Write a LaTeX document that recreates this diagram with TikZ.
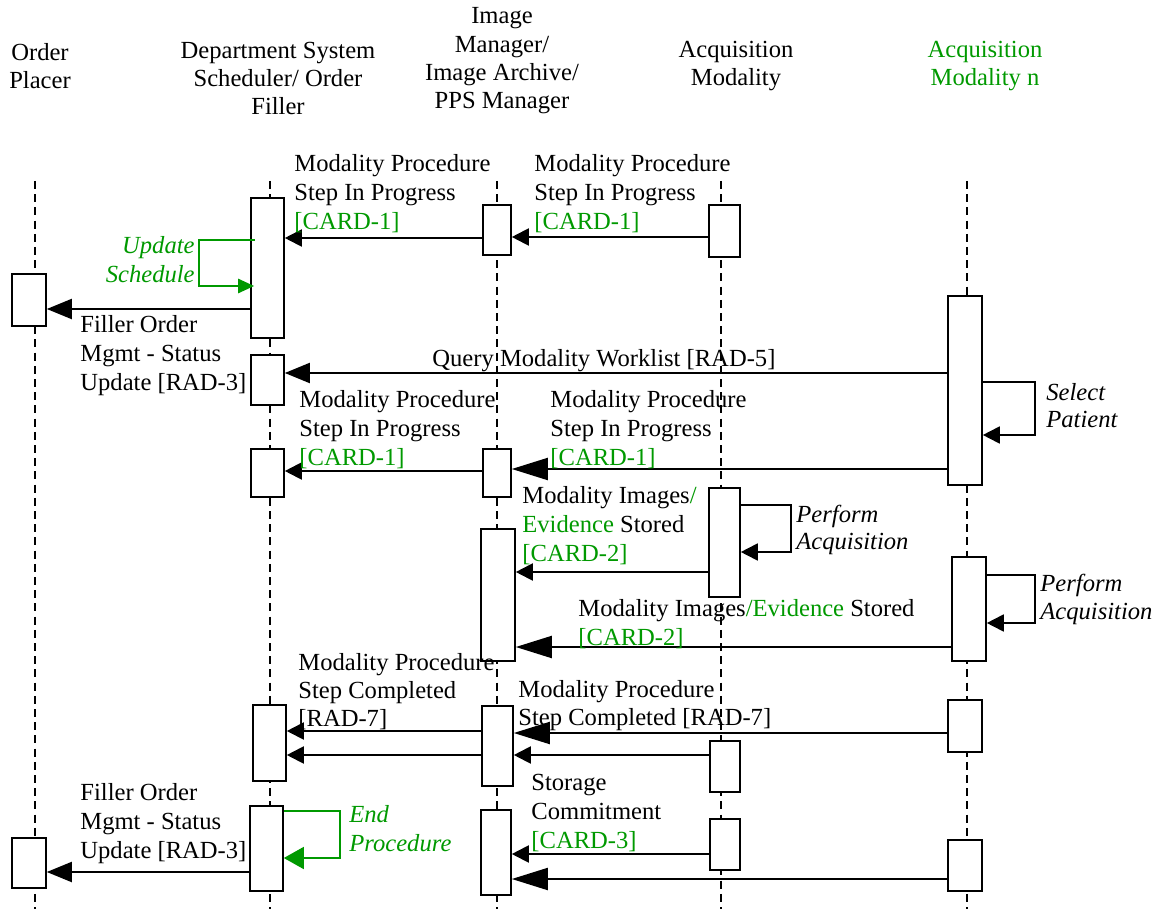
\documentclass[tikz,border=0pt]{standalone}
\usepackage{fontspec}
\setmainfont{Liberation Serif}
\usetikzlibrary{arrows.meta,fit}
\definecolor{grn}{RGB}{0,153,0}
\tikzset{
  life/.style={line width=1.3pt, dash pattern=on 4pt off 2.6pt},
  actbox/.style={draw, fill=white, line width=0.8pt, inner sep=0pt},
  msg/.style={line width=1pt, -{Triangle[length=8.5pt,width=8.5pt]}},
  msgm/.style={line width=1pt, -{Triangle[length=12.5pt,width=10pt]}},
  msgb/.style={line width=1pt, -{Triangle[length=18pt,width=11pt]}},
  selfloop/.style={line width=0.9pt, -{Triangle[length=8.5pt,width=8.5pt]}},
  lbl/.style={anchor=base west, inner sep=0pt, align=left, font=\fontsize{12.3}{14.5}\selectfont},
  lblr/.style={anchor=base east, inner sep=0pt, align=right, font=\fontsize{12.3}{14}\selectfont\itshape},
  hdr/.style={anchor=base, inner sep=0pt, align=center, font=\fontsize{12.3}{14.2}\selectfont},
}
\newcommand\abox[5]{\node[actbox, fit={(#2,#3) (#4,#5)}] (#1) {};}
\begin{document}
\begin{tikzpicture}[x=0.5pt,y=-0.5pt]
\useasboundingbox (0,0) rectangle (1161,909);
% headers (anchor = baseline of last line)
\node[hdr] (hOP) at (40,89) {Order\\Placer};
\node[hdr] (hDSS) at (278,115) {Department System\\Scheduler/ Order\\Filler};
\node[hdr] (hIM) at (502,109) {Image\\Manager/\\Image Archive/\\PPS Manager};
\node[hdr] (hAM) at (736,86) {Acquisition\\Modality};
\node[hdr, text=grn] (hAMn) at (985,86) {Acquisition\\Modality n};
% lifelines
\coordinate (OPt) at (35,181);  \coordinate (OPb) at (35,909);
\coordinate (DSSt) at (270,181); \coordinate (DSSb) at (270,909);
\coordinate (IMt) at (497,181); \coordinate (IMb) at (497,909);
\coordinate (AMt) at (721,181); \coordinate (AMb) at (721,909);
\coordinate (AMnt) at (967,181); \coordinate (AMnb) at (967,909);
\foreach \l in {OP,DSS,IM,AM,AMn} \draw[life] (\l t) -- (\l b);
% activation boxes
\abox{OP1}{12}{274}{46}{326}
\abox{OP2}{12}{838}{46}{888}
\abox{DSS1}{251}{198}{284}{338}
\abox{DSS2}{251}{355}{284}{405}
\abox{DSS3}{251}{449}{284}{497}
\abox{DSS4}{253}{705}{286}{781}
\abox{DSS5}{250}{806}{283}{891}
\abox{IM1}{483}{205}{511}{255}
\abox{IM2}{483}{449}{511}{497}
\abox{IM3}{481}{529}{515}{661}
\abox{IM4}{482}{706}{513}{786}
\abox{IM5}{481}{810}{511}{895}
\abox{AM1}{709}{205}{740}{257}
\abox{AM2}{709}{488}{740}{597}
\abox{AM3}{710}{741}{740}{792}
\abox{AM4}{710}{819}{740}{870}
\abox{AMn1}{948}{296}{982}{485}
\abox{AMn2}{952}{557}{986}{661}
\abox{AMn3}{948}{700}{982}{752}
\abox{AMn4}{948}{840}{982}{891}
% messages
\draw[msg] (AM1.west |- 0,237) -- (IM1.east |- 0,237);
\draw[msg] (IM1.west |- 0,238) -- (DSS1.east |- 0,238);
\draw[line width=1.25pt, grn, -{Triangle[length=8pt,width=7pt]}, shorten <=-2.5pt, shorten >=-2pt]
  (DSS1.west |- 0,240) -- ++(-51,0) |- (DSS1.west |- 0,286);
\draw[msgm] (DSS1.west |- 0,309) -- (OP1.east |- 0,309);
\draw[msgm] (AMn1.west |- 0,373) -- (DSS2.east |- 0,373);
\draw[selfloop] (AMn1.east |- 0,382) -- ++(52,0) |- (AMn1.east |- 0,435);
\draw[msgb] (AMn1.west |- 0,469) -- (IM2.east |- 0,469);
\draw[msg] (IM2.west |- 0,471) -- (DSS3.east |- 0,471);
\draw[selfloop] (AM2.east |- 0,505) -- ++(50,0) |- (AM2.east |- 0,552);
\draw[msg] (AM2.west |- 0,572) -- (IM3.east |- 0,572);
\draw[selfloop] (AMn2.east |- 0,575) -- ++(48,0) |- (AMn2.east |- 0,623);
\draw[msgb] (AMn2.west |- 0,647) -- (IM3.east |- 0,647);
\draw[msgb] (AMn3.west |- 0,733) -- (IM4.east |- 0,733);
\draw[msg] (IM4.west |- 0,731) -- (DSS4.east |- 0,731);
\draw[msg] (AM3.west |- 0,755) -- (IM4.east |- 0,755);
\draw[msg] (IM4.west |- 0,755) -- (DSS4.east |- 0,755);
\draw[line width=0.8pt, grn, -{Triangle[length=10pt,width=11pt]}]
  (DSS5.east |- 0,811) -- ++(56,0) |- (DSS5.east |- 0,858);
\draw[msgm] (DSS5.west |- 0,872) -- (OP2.east |- 0,872);
\draw[msg] (AM4.west |- 0,854) -- (IM5.east |- 0,854);
\draw[msgb] (AMn4.west |- 0,879) -- (IM5.east |- 0,879);
% labels (anchor = baseline of last line)
\node[lbl] (t1) at (294,230) {Modality Procedure\\Step In Progress\\\textcolor{grn}{[CARD-1]}};
\node[lbl] (t2) at (534,230) {Modality Procedure\\Step In Progress\\\textcolor{grn}{[CARD-1]}};
\node[lblr, text=grn] (t3) at (195,282) {Update\\Schedule};
\node[lbl] (t4) at (80,390) {Filler Order\\Mgmt - Status\\Update [RAD-3]};
\node[lbl] (t5) at (432,366) {Query Modality Worklist [RAD-5]};
\node[lbl, font=\fontsize{12.3}{13.5}\selectfont\itshape] (t6) at (1046,427) {Select\\Patient};
\node[lbl] (t7) at (299,465) {Modality Procedure\\Step In Progress\\\textcolor{grn}{[CARD-1]}};
\node[lbl] (t8) at (550,465) {Modality Procedure\\Step In Progress\\\textcolor{grn}{[CARD-1]}};
\node[lbl, font=\fontsize{12.3}{13.5}\selectfont\itshape] (t9) at (796,549) {Perform\\Acquisition};
\node[lbl] (t10) at (522,561) {Modality Images\textcolor{grn}{/}\\\textcolor{grn}{Evidence} Stored\\\textcolor{grn}{[CARD-2]}};
\node[lbl, font=\fontsize{12.3}{14}\selectfont\itshape] (t11) at (1040,619) {Perform\\Acquisition};
\node[lbl] (t12) at (578,645) {Modality Images\textcolor{grn}{/Evidence} Stored\\\textcolor{grn}{[CARD-2]}};
\node[lbl, font=\fontsize{12.3}{14}\selectfont] (t13) at (518,725) {Modality Procedure\\Step Completed [RAD-7]};
\node[lbl, font=\fontsize{12.3}{14}\selectfont] (t14) at (298,726) {Modality Procedure\\Step Completed\\{[RAD-7]}};
\node[lbl, text=grn, font=\fontsize{12.3}{14.5}\selectfont\itshape] (t15) at (349,851) {End\\Procedure};
\node[lbl] (t16) at (80,858) {Filler Order\\Mgmt - Status\\Update [RAD-3]};
\node[lbl] (t17) at (531,848) {Storage\\Commitment\\\textcolor{grn}{[CARD-3]}};
\end{tikzpicture}
\end{document}
